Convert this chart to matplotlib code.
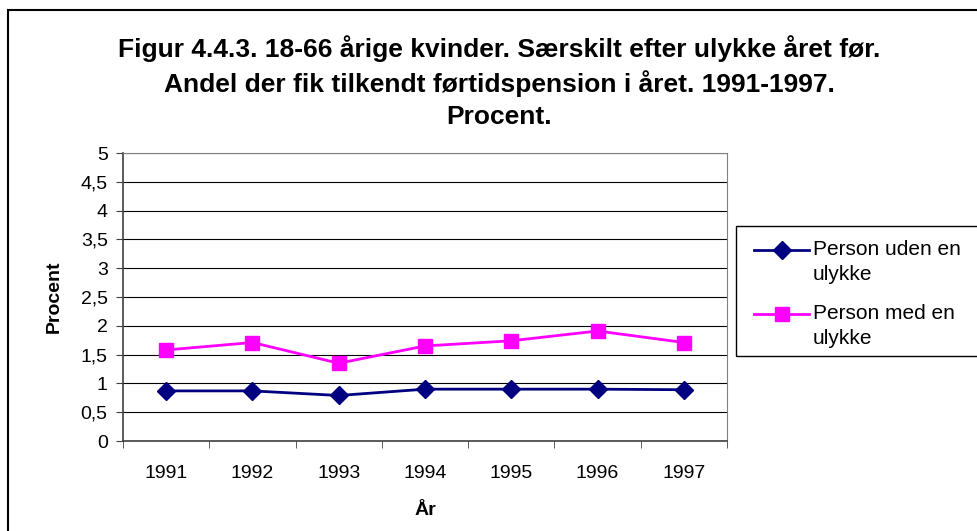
import matplotlib.pyplot as plt
from matplotlib.patches import Rectangle
from matplotlib.legend_handler import HandlerLine2D

plt.rcParams['font.family'] = ['Liberation Sans', 'DejaVu Sans']

years = ['1991', '1992', '1993', '1994', '1995', '1996', '1997']
uden_ulykke = [0.87, 0.87, 0.79, 0.90, 0.90, 0.90, 0.89]
med_ulykke = [1.58, 1.71, 1.35, 1.65, 1.74, 1.91, 1.71]
y_ticks = [0, 0.5, 1, 1.5, 2, 2.5, 3, 3.5, 4, 4.5, 5]
y_labels = ['0', '0,5', '1', '1,5', '2', '2,5', '3', '3,5', '4', '4,5', '5']


class FirstLineHandler(HandlerLine2D):
    # put the legend line level with the first text line, like Excel does
    def create_artists(self, legend, orig_handle, xdescent, ydescent,
                       width, height, fontsize, trans):
        return super().create_artists(legend, orig_handle, xdescent, ydescent - 18,
                                      width, height, fontsize, trans)


fig = plt.figure(figsize=(9.77, 5.31), dpi=100)

# outer chart frame
fig.patches.append(Rectangle((8 / 977, -0.01), 1, 1 - 10 / 531 + 0.01, transform=fig.transFigure,
                             fill=False, edgecolor='black', linewidth=1.5))
# legend frame
fig.patches.append(Rectangle((736 / 977, 1 - 356 / 531), 0.3, 130 / 531, transform=fig.transFigure,
                             fill=False, edgecolor='black', linewidth=1.0))

ax = fig.add_axes([123 / 977, 90 / 531, 604 / 977, 288 / 531])
x = range(len(years))
l1, = ax.plot(x, uden_ulykke, color='#000080', marker='D', markersize=9, linewidth=2,
              label='Person uden en\nulykke')
l2, = ax.plot(x, med_ulykke, color='#FF00FF', marker='s', markersize=9.5, linewidth=2,
              label='Person med en\nulykke')

ax.set_xlim(-0.5, len(years) - 0.5)
ax.set_ylim(0, 5)
ax.set_yticks(y_ticks)
ax.set_yticklabels(y_labels, fontsize=14)
ax.set_xticks(list(x))
ax.set_xticklabels(years, fontsize=14)
ax.tick_params(axis='x', length=0, pad=17)
ax.set_xticks([i - 0.5 for i in range(len(years) + 1)], minor=True)
ax.tick_params(axis='x', which='minor', length=5, color='#404040')
ax.tick_params(axis='y', length=5, color='#404040', pad=6)
ax.grid(axis='y', color='black', linewidth=0.8)
ax.set_axisbelow(True)
for side in ['top', 'right']:
    ax.spines[side].set_color('#808080')
for side in ['left', 'bottom']:
    ax.spines[side].set_color('#404040')
    ax.spines[side].set_linewidth(1.2)

ax.set_xlabel('År', fontsize=14, fontweight='bold', labelpad=15)
ax.set_ylabel('Procent', fontsize=14, fontweight='bold', labelpad=13)

fig.text(0.511, 1 - 82 / 531,
         'Figur 4.4.3. 18-66 årige kvinder. Særskilt efter ulykke året før.\n'
         'Andel der fik tilkendt førtidspension i året. 1991-1997.\nProcent.',
         ha='center', va='center', fontsize=19, fontweight='bold', linespacing=1.38)

leg = ax.legend(loc='upper left', bbox_to_anchor=(754 / 977, 1 - 240 / 531),
                bbox_transform=fig.transFigure, fontsize=15, frameon=False,
                handlelength=2.64, handletextpad=0.19, labelspacing=0.96,
                borderpad=0, borderaxespad=0,
                handler_map={l1: FirstLineHandler(), l2: FirstLineHandler()})
for t in leg.get_texts():
    t.set_linespacing(1.4)

fig.savefig('out.png', dpi=100)
